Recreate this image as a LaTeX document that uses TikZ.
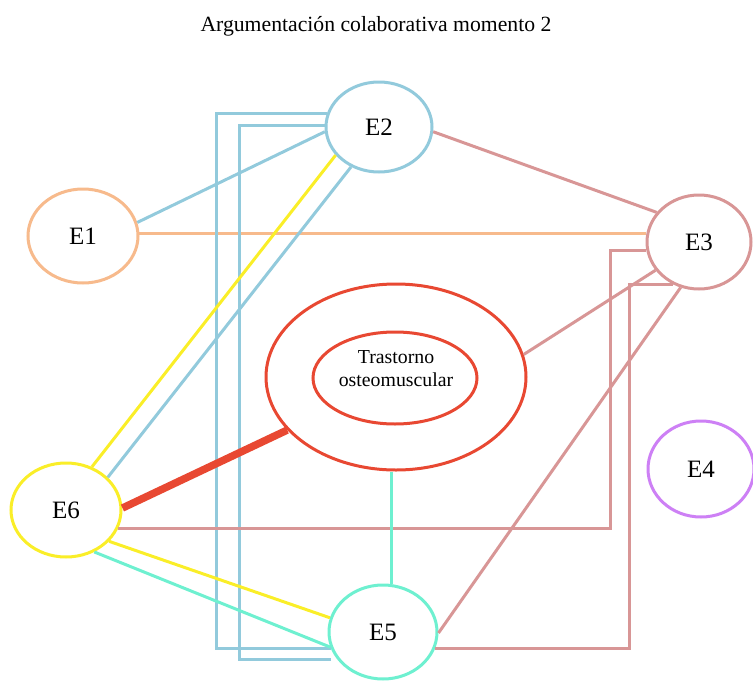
\documentclass[tikz,border=0pt]{standalone}
\usepackage{fontspec}
\setmainfont{Liberation Serif}
\usetikzlibrary{shapes.geometric}

\definecolor{cOrange}{RGB}{247,186,140}
\definecolor{cBlue}{RGB}{146,202,220}
\definecolor{cPink}{RGB}{216,150,150}
\definecolor{cYellow}{RGB}{250,238,40}
\definecolor{cAqua}{RGB}{110,240,208}
\definecolor{cRed}{RGB}{232,72,50}
\definecolor{cPurple}{RGB}{205,128,245}

\tikzset{
  student/.style={ellipse, draw=#1, line width=3pt, fill=white, inner sep=0pt,
    minimum width=108pt, minimum height=94pt, font=\fontsize{25}{25}\selectfont},
  link/.style={line width=3pt, draw=#1},
}

\begin{document}
\begin{tikzpicture}[x=1pt, y=-1pt]
\useasboundingbox (0,0) rectangle (753,683);

% title
\node[anchor=base, font=\fontsize{21.7}{24}\selectfont] (title) at (376,31)
  {Argumentación colaborativa momento 2};

% central topic
\node[ellipse, draw=cRed, line width=3pt, fill=white, minimum width=260pt,
  minimum height=186pt] (outer) at (396,377) {};
\node[ellipse, draw=cRed, line width=3pt, minimum width=164pt,
  minimum height=92pt] (inner) at (395,378) {};
\node[align=center, font=\fontsize{19.8}{23}\selectfont] (topic) at (396,369)
  {Trastorno\\osteomuscular};

% students
\node[student=cOrange, minimum width=110pt, minimum height=94pt] (e1) at (83,236) {E1};
\node[student=cBlue,   minimum width=106pt, minimum height=90pt] (e2) at (379,127) {E2};
\node[student=cPink,   minimum width=104pt, minimum height=94pt] (e3) at (699,242) {E3};
\node[student=cPurple, minimum width=106pt, minimum height=96pt] (e4) at (701,469) {E4};
\node[student=cAqua,   minimum width=108pt, minimum height=94pt] (e5) at (383,632) {E5};
\node[student=cYellow, minimum width=110pt, minimum height=94pt] (e6) at (66,510) {E6};

% links of E1
\draw[link=cBlue]   (e1.14) -- (e2.185);
\draw[link=cOrange] (e1.3) -- (e1.3 -| e3.west);

% links of E2
\draw[link=cPink]   (e2.355) -- (e3.145);
\draw[link=cBlue]   (e2.165) -- ++(-111,0) |- (e5.198);
\draw[link=cBlue]   (e2.178) -- ++(-85,0) |- ([yshift=-11pt]e5.198);
\draw[link=cYellow] (e2.213) -- (e6.59);
\draw[link=cBlue]   (e2.235) -- (e6.38);

% links of E3
\draw[link=cPink] (e3.213) -- (outer.10);
\draw[link=cPink] (e3.189) -- ++(-36,0) |- (e6.340);
\draw[link=cPink] (e5.342) -- ++(194,0) |- (e3.238);
\draw[link=cPink] (e3.248) -- (e5.359);

% links of E6
\draw[cRed, line width=7.5pt] (e6.2) -- (outer.206);
\draw[link=cYellow] (e6.324) -- (e5.165);
\draw[link=cAqua]   (e6.304) -- (e5.196);

% link of E5 to the topic
\draw[link=cAqua] (e5.80) -- (e5.80 |- outer.south);
\end{tikzpicture}
\end{document}
